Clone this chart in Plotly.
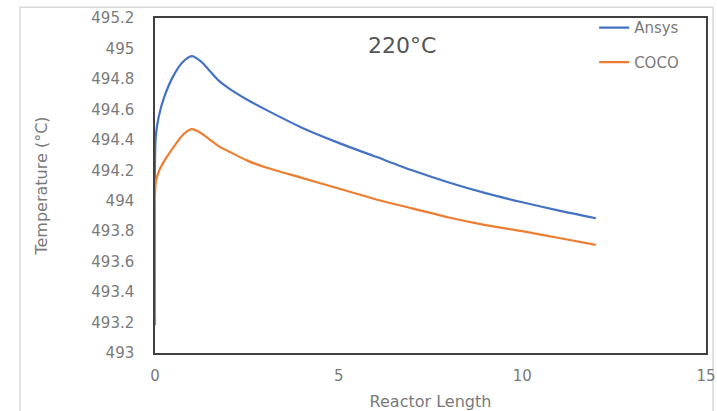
import plotly.graph_objects as go

# Reactor length positions (m) and outlet temperatures for the two models
length = [0, 0.02, 0.1, 0.25, 0.5, 0.75, 1.0, 1.25, 1.5, 1.75, 2, 2.5, 3, 4, 5, 6, 7, 8, 9, 10, 11, 12]
ansys = [493.2, 494.42, 494.55, 494.68, 494.82, 494.91, 494.95, 494.915, 494.85, 494.785, 494.74,
         494.665, 494.6, 494.48, 494.38, 494.29, 494.2, 494.12, 494.05, 493.99, 493.935, 493.885]
coco = [493.18, 494.12, 494.19, 494.26, 494.35, 494.43, 494.47, 494.445, 494.40, 494.355, 494.325,
        494.265, 494.22, 494.15, 494.08, 494.01, 493.95, 493.89, 493.84, 493.8, 493.755, 493.71]

x_ticks = [0, 5, 10, 15]
y_ticks = [493, 493.2, 493.4, 493.6, 493.8, 494, 494.2, 494.4, 494.6, 494.8, 495, 495.2]
y_tick_text = ["493", "493.2", "493.4", "493.6", "493.8", "494", "494.2", "494.4",
               "494.6", "494.8", "495", "495.2"]

FONT = "DejaVu Sans"
GRAY = "#7a7a7a"

fig = go.Figure()
fig.add_trace(go.Scatter(x=length, y=ansys, mode="lines", name="Ansys", legendgroup="a",
                         line=dict(color="#4472C4", width=2.2, shape="spline", smoothing=0.7)))
fig.add_trace(go.Scatter(x=length, y=coco, mode="lines", name="COCO", legendgroup="c",
                         line=dict(color="#ED7D31", width=2.2, shape="spline", smoothing=0.7)))

fig.update_layout(
    width=717, height=411,
    margin=dict(l=155, r=11, t=14, b=58),
    paper_bgcolor="white", plot_bgcolor="white",
    font=dict(family=FONT, color=GRAY, size=14),
    showlegend=True,
    legend=dict(x=0.797, xanchor="left", y=1.02, yanchor="top", bgcolor="rgba(0,0,0,0)",
                tracegroupgap=12, font=dict(size=15, color=GRAY)),
    annotations=[dict(text="220°C", x=6.72, y=495.02, xref="x", yref="y", showarrow=False,
                      font=dict(size=22, color="#555555", family=FONT))],
    shapes=[dict(type="rect", xref="paper", yref="paper", x0=-0.245, x1=1.0127,
                 y0=-0.2, y1=1.032, line=dict(color="#d9d9d9", width=1.5), layer="below")],
)
fig.update_xaxes(range=[0, 15], tickvals=x_ticks, showgrid=False, zeroline=False,
                 showline=True, mirror=True, linecolor="#404040", linewidth=1.5,
                 ticks="", ticklabelstandoff=8, tickfont=dict(size=15), automargin=False,
                 title=dict(text="Reactor Length", font=dict(size=16, color=GRAY), standoff=12))
fig.update_yaxes(range=[493, 495.2], tickvals=y_ticks, ticktext=y_tick_text, showgrid=False,
                 zeroline=False, showline=True, mirror=True, linecolor="#404040", linewidth=1.5,
                 ticks="", ticklabelstandoff=16, tickfont=dict(size=15), automargin=False,
                 title=dict(text="Temperature (°C)", font=dict(size=16, color=GRAY), standoff=40))

fig.write_html("out.html")
